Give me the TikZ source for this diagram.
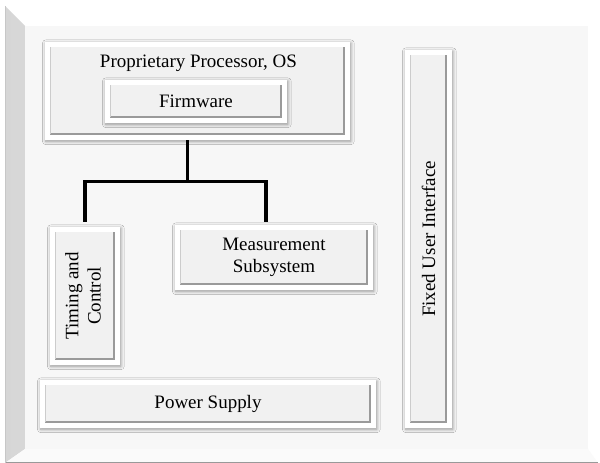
\documentclass[tikz,border=0pt]{standalone}
\usepackage{fontspec}
\setmainfont{Liberation Serif}
\usetikzlibrary{shadows.blur}

\begin{document}
\begin{tikzpicture}[font=\fontsize{13.5}{16}\selectfont]

\definecolor{face}{HTML}{F1F1F1}
\definecolor{back}{HTML}{F7F7F7}
\definecolor{rim}{HTML}{9A9A9A}

\tikzset{
  bevel/.style={fill=white, inner sep=0pt, align=center,
    blur shadow={shadow xshift=0.6pt, shadow yshift=-0.9pt, shadow blur radius=2.4pt, shadow blur steps=6, shadow opacity=40},
    path picture={
      \fill[face] ([shift={(3.5pt,-3.5pt)}]path picture bounding box.north west) rectangle ([shift={(-3.5pt,3.5pt)}]path picture bounding box.south east);
      \draw[rim, line width=1.3pt] ([shift={(3.5pt,4.2pt)}]path picture bounding box.south west) -- ([shift={(-4.2pt,4.2pt)}]path picture bounding box.south east) -- ([shift={(-4.2pt,-3.5pt)}]path picture bounding box.north east);
      \draw[black!20, line width=.6pt] ([shift={(3.8pt,4pt)}]path picture bounding box.south west) -- ([shift={(3.8pt,-3.5pt)}]path picture bounding box.north west);
    }},
  frame/.style={fill=white, inner sep=0pt,
    path picture={
      \shade[left color=black!16, right color=black!4] (path picture bounding box.north west) -- ++(0.5,-0.5) -- ([shift={(0.5,0.35)}]path picture bounding box.south west) -- (path picture bounding box.south west) -- cycle;
      \fill[black!2] (path picture bounding box.south west) -- ++(0.5,0.35) -- ([shift={(-0.25,0.35)}]path picture bounding box.south east) -- (path picture bounding box.south east) -- cycle;
      \fill[back] ([shift={(0.5,-0.5)}]path picture bounding box.north west) rectangle ([shift={(-0.25,0.35)}]path picture bounding box.south east);
      \draw[black!40, line width=1pt] (path picture bounding box.south west) -- (path picture bounding box.south east);
      \draw[black!22, line width=1pt] (path picture bounding box.south west) -- (path picture bounding box.north west);
    }},
  bus/.style={line width=2.2pt, black}
}

\useasboundingbox (0,0) rectangle (15,11.575);

%panel
\node[frame, minimum width=14.825cm, minimum height=11.425cm] (frame) at (7.5375,5.7125) {};

%processor
\node[bevel, minimum width=7.625cm, minimum height=2.45cm] (proc) at (4.9375,9.30) {};
\node (proct) at (4.96,10.0) {Proprietary Processor, OS};
\node[bevel, minimum width=4.55cm, minimum height=1.075cm] (fw) at (4.90,9.0375) {Firmware};

%subsystems
\node[bevel, minimum width=1.75cm, minimum height=3.45cm] (tc) at (2.125,4.175)
  {\rotatebox{90}{\begin{tabular}{@{}c@{}}Timing and\\Control\end{tabular}}};
\node[bevel, minimum width=4.95cm, minimum height=1.625cm] (meas) at (6.85,5.1375) {Measurement\\Subsystem};
\node[bevel, minimum width=8.4cm, minimum height=1.2cm] (ps) at (5.20,1.475) {Power Supply};
\node[bevel, minimum width=1.175cm, minimum height=9.45cm] (fui) at (10.7125,5.60) {\rotatebox{90}{Fixed User Interface}};

%bus
\draw[bus] ([xshift=-2.4mm]proc.south) -- ++(0,-1.025) coordinate (fork) -| ([yshift=1.2mm]tc.north);
\draw[bus] (fork) -| ([xshift=-2mm, yshift=0.8mm]meas.north);
\end{tikzpicture}
\end{document}
